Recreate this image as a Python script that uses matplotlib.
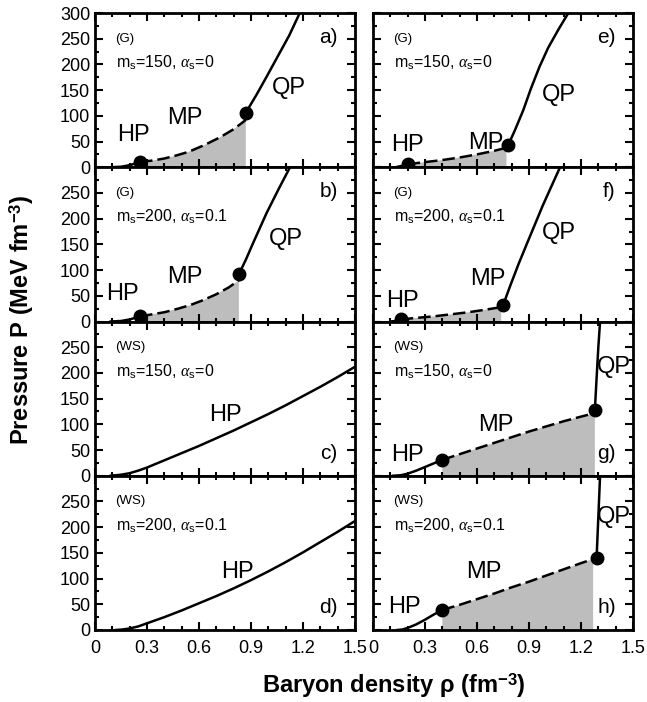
import numpy as np
import matplotlib
matplotlib.use("Agg")
import matplotlib.pyplot as plt
from matplotlib.ticker import MultipleLocator

plt.rcParams['font.family'] = ['Liberation Sans', 'DejaVu Sans']
plt.rcParams['mathtext.fontset'] = 'custom'
plt.rcParams['mathtext.rm'] = 'Liberation Sans'
plt.rcParams['mathtext.bf'] = 'Liberation Sans:bold'
plt.rcParams['mathtext.it'] = 'Liberation Serif:italic'

# ---- data (rho in fm^-3, P in MeV fm^-3) ----
# panel a) (G) ms=150, as=0
a_hp_x = [0.09, 0.15, 0.20, 0.26]
a_hp_y = [0, 1, 4, 10]
a_mp_x = [0.26, 0.33, 0.40, 0.47, 0.54, 0.63, 0.72, 0.80, 0.87]
a_mp_y = [10, 13, 17, 23, 30, 43, 58, 74, 92]
a_qp_x = [0.87, 0.93, 0.99, 1.05, 1.12, 1.18, 1.22]
a_qp_y = [106, 140, 176, 213, 256, 299, 325]
a_dots = ([0.26, 0.87], [10, 106])

# panel b) (G) ms=200, as=0.1
b_hp_x = [0.09, 0.15, 0.20, 0.26]
b_hp_y = [0, 1, 4, 10]
b_mp_x = [0.26, 0.33, 0.40, 0.48, 0.55, 0.62, 0.70, 0.77, 0.83]
b_mp_y = [10, 14, 18, 25, 32, 41, 53, 66, 80]
b_qp_x = [0.83, 0.87, 0.91, 0.95, 0.99, 1.06, 1.125, 1.15]
b_qp_y = [92, 120, 151, 181, 211, 258, 300, 316]
b_dots = ([0.26, 0.83], [10, 92])

# panel c) (WS) ms=150, as=0
c_hp_x = [0.09, 0.15, 0.20, 0.25, 0.30, 0.40, 0.50, 0.60, 0.70, 0.80,
          0.90, 1.00, 1.10, 1.20, 1.30, 1.40, 1.50]
c_hp_y = [0, 2, 5, 10, 16, 30, 44, 58, 73, 88,
          104, 120, 137, 155, 173, 192, 212]

# panel d) (WS) ms=200, as=0.1
d_hp_x = [0.12, 0.16, 0.20, 0.25, 0.30, 0.40, 0.50, 0.60, 0.70, 0.80,
          0.90, 1.00, 1.10, 1.20, 1.30, 1.40, 1.50]
d_hp_y = [0, 1, 3, 7, 13, 25, 38, 52, 66, 81,
          97, 114, 132, 151, 171, 191, 212]

# panel e) (G) ms=150, as=0
e_hp_x = [0.13, 0.17, 0.20]
e_hp_y = [0, 3, 6]
e_mp_x = [0.20, 0.30, 0.40, 0.50, 0.60, 0.70, 0.77]
e_mp_y = [6, 10, 14, 19, 25, 32, 38]
e_qp_x = [0.78, 0.82, 0.867, 0.91, 0.96, 1.01, 1.07, 1.127, 1.15]
e_qp_y = [43, 73, 111, 152, 195, 232, 268, 300, 312]
e_dots = ([0.20, 0.78], [6, 43])

# panel f) (G) ms=200, as=0.1
f_hp_x = [0.10, 0.13, 0.16]
f_hp_y = [0, 1, 4]
f_mp_x = [0.16, 0.25, 0.35, 0.45, 0.55, 0.65, 0.74]
f_mp_y = [4, 7, 10, 14, 18, 23, 28]
f_qp_x = [0.752, 0.79, 0.84, 0.89, 0.98, 1.079, 1.10]
f_qp_y = [33, 68, 112, 153, 226, 300, 314]
f_dots = ([0.16, 0.752], [4, 33])

# panel g) (WS) ms=150, as=0
g_hp_x = [0.115, 0.16, 0.20, 0.25, 0.30, 0.35, 0.40]
g_hp_y = [0, 1, 4, 10, 17, 24, 31]
g_mp_x = [0.40, 0.50, 0.60, 0.70, 0.80, 0.90, 1.00, 1.10, 1.20, 1.28]
g_mp_y = [31, 42, 53, 64, 75, 86, 96, 106, 115, 122]
g_qp_x = [1.28, 1.29, 1.30, 1.31, 1.315]
g_qp_y = [128, 190, 250, 300, 330]
g_dots = ([0.40, 1.28], [31, 128])

# panel h) (WS) ms=200, as=0.1
h_hp_x = [0.14, 0.17, 0.20, 0.25, 0.30, 0.35, 0.40]
h_hp_y = [0, 1, 4, 11, 20, 30, 39]
h_mp_x = [0.40, 0.50, 0.60, 0.70, 0.80, 0.90, 1.00, 1.10, 1.20, 1.27]
h_mp_y = [39, 49, 60, 71, 83, 94, 106, 118, 130, 138]
h_qp_x = [1.29, 1.30, 1.31, 1.315]
h_qp_y = [140, 220, 300, 330]
h_dots = ([0.40, 1.29], [39, 140])

panels = {
    'a': dict(hp=(a_hp_x, a_hp_y), mp=(a_mp_x, a_mp_y), qp=(a_qp_x, a_qp_y), dots=a_dots,
              model='(G)', par=r'm$_\mathrm{s}$=150, $\alpha_\mathrm{s}$=0', tag_top=True,
              labels={'HP': (0.22, 62), 'MP': (0.52, 95), 'QP': (1.12, 154)}),
    'b': dict(hp=(b_hp_x, b_hp_y), mp=(b_mp_x, b_mp_y), qp=(b_qp_x, b_qp_y), dots=b_dots,
              model='(G)', par=r'm$_\mathrm{s}$=200, $\alpha_\mathrm{s}$=0.1', tag_top=True,
              labels={'HP': (0.16, 53), 'MP': (0.52, 86), 'QP': (1.10, 160)}),
    'c': dict(hp=(c_hp_x, c_hp_y), mp=None, qp=None, dots=None,
              model='(WS)', par=r'm$_\mathrm{s}$=150, $\alpha_\mathrm{s}$=0', tag_top=False,
              labels={'HP': (0.75, 119)}),
    'd': dict(hp=(d_hp_x, d_hp_y), mp=None, qp=None, dots=None,
              model='(WS)', par=r'm$_\mathrm{s}$=200, $\alpha_\mathrm{s}$=0.1', tag_top=False,
              labels={'HP': (0.82, 113)}),
    'e': dict(hp=(e_hp_x, e_hp_y), mp=(e_mp_x, e_mp_y), qp=(e_qp_x, e_qp_y), dots=e_dots,
              model='(G)', par=r'm$_\mathrm{s}$=150, $\alpha_\mathrm{s}$=0', tag_top=True,
              labels={'HP': (0.20, 43), 'MP': (0.65, 47), 'QP': (1.07, 140)}),
    'f': dict(hp=(f_hp_x, f_hp_y), mp=(f_mp_x, f_mp_y), qp=(f_qp_x, f_qp_y), dots=f_dots,
              model='(G)', par=r'm$_\mathrm{s}$=200, $\alpha_\mathrm{s}$=0.1', tag_top=True,
              labels={'HP': (0.17, 39), 'MP': (0.66, 82), 'QP': (1.07, 173)}),
    'g': dict(hp=(g_hp_x, g_hp_y), mp=(g_mp_x, g_mp_y), qp=(g_qp_x, g_qp_y), dots=g_dots,
              model='(WS)', par=r'm$_\mathrm{s}$=150, $\alpha_\mathrm{s}$=0', tag_top=False,
              labels={'HP': (0.20, 41), 'MP': (0.71, 99), 'QP': (1.39, 212)}),
    'h': dict(hp=(h_hp_x, h_hp_y), mp=(h_mp_x, h_mp_y), qp=(h_qp_x, h_qp_y), dots=h_dots,
              model='(WS)', par=r'm$_\mathrm{s}$=200, $\alpha_\mathrm{s}$=0.1', tag_top=False,
              labels={'HP': (0.18, 45), 'MP': (0.64, 113), 'QP': (1.39, 220)}),
}

fig = plt.figure(figsize=(6.47, 7.02), dpi=100)

W, H = 647.0, 702.0
col_left = [95 / W, 373 / W]
ax_w = 260 / W
top_px, bot_px = 13.0, 630.0
ax_h = (bot_px - top_px) / 4 / H

order = [['a', 'b', 'c', 'd'], ['e', 'f', 'g', 'h']]

for ci, col in enumerate(order):
    for ri, key in enumerate(col):
        p = panels[key]
        y0 = 1 - (top_px / H) - (ri + 1) * ax_h
        ax = fig.add_axes([col_left[ci], y0, ax_w, ax_h])
        ax.set_xlim(0, 1.5)
        ax.set_ylim(0, 300)

        if p['mp'] is not None:
            mx, my = p['mp']
            ax.fill_between(mx, 0, my, facecolor='#bdbdbd', edgecolor='none', zorder=1)
            ax.plot(mx, my, color='black', lw=1.8, ls=(0, (5, 2)), zorder=3)
        hx, hy = p['hp']
        ax.plot(hx, hy, color='black', lw=1.8, zorder=3)
        if p['qp'] is not None:
            qx, qy = p['qp']
            ax.plot(qx, qy, color='black', lw=1.8, zorder=3)
        if p['dots'] is not None:
            ax.plot(p['dots'][0], p['dots'][1], 'o', color='black', ms=9, zorder=4,
                    clip_on=False)

        for txt, (lx, ly) in p['labels'].items():
            ax.text(lx, ly, txt, fontsize=17, ha='center', va='center', zorder=5)

        ax.text(0.115, 250, p['model'], fontsize=9.5, ha='left', va='center')
        ax.text(0.12, 203, p['par'], fontsize=11.5, ha='left', va='center')
        if p['tag_top']:
            ax.text(1.40, 252, key + ')', fontsize=15, ha='right', va='center')
        else:
            ax.text(1.40, 44, key + ')', fontsize=15, ha='right', va='center')

        ax.xaxis.set_major_locator(MultipleLocator(0.3))
        ax.xaxis.set_minor_locator(MultipleLocator(0.1))
        ax.yaxis.set_major_locator(MultipleLocator(50))
        ax.yaxis.set_minor_locator(MultipleLocator(25))
        ax.tick_params(which='both', direction='in', top=True, right=True, width=1.5)
        ax.tick_params(which='major', length=6, labelsize=13)
        ax.tick_params(which='minor', length=3)
        for s in ax.spines.values():
            s.set_linewidth(2)

        if ci == 0:
            if ri == 0:
                ax.set_yticks([0, 50, 100, 150, 200, 250, 300])
            else:
                ax.set_yticks([0, 50, 100, 150, 200, 250])
            ax.set_yticklabels([str(v) for v in ax.get_yticks().astype(int)])
        else:
            ax.tick_params(labelleft=False)

        if ri == 3:
            ax.set_xticks(np.arange(0, 1.51, 0.3))
            ax.set_xticklabels(['0', '0.3', '0.6', '0.9', '1.2', '1.5'])
            ax.tick_params(axis='x', pad=7)
        else:
            ax.tick_params(labelbottom=False)

fig.text(22 / W, 1 - 320 / H, r'Pressure P (MeV fm$^{\mathbf{-3}}$)', rotation=90,
         fontsize=17, fontweight='bold', ha='center', va='center')
fig.text(394 / W, 1 - 686 / H, r'Baryon density ρ (fm$^{\mathbf{-3}}$)',
         fontsize=17, fontweight='bold', ha='center', va='center')

fig.savefig('out.png', dpi=100)
